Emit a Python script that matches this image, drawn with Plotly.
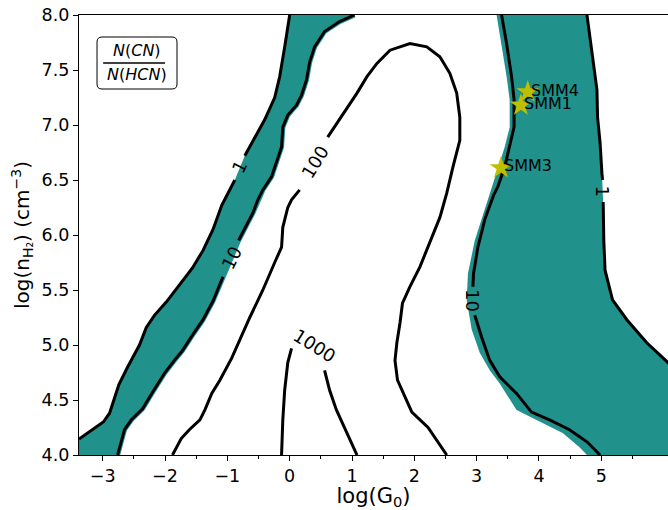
import plotly.graph_objects as go

# ---------------- data ----------------
# contour N(CN)/N(HCN) = 1, left branch (bottom -> top); None = label gap
c1L_x = [-3.38, -2.99, -2.89, -2.74, -2.60, -2.41, -2.30, -2.17, -1.98, -1.74, -1.56, -1.39,
         -1.23, -1.09, -0.96, -0.88, None, -0.72, -0.59, -0.40, -0.24, -0.16, -0.08, 0.00]
c1L_y = [4.145, 4.30, 4.38, 4.64, 4.80, 5.00, 5.16, 5.27, 5.39, 5.57, 5.70, 5.86,
         6.05, 6.27, 6.41, 6.50, None, 6.72, 6.86, 7.05, 7.25, 7.44, 7.71, 8.00]

# contour = 10, left branch (bottom -> top)
c10L_x = [-2.76, -2.65, -2.54, -2.36, -2.20, -2.00, -1.85, -1.72, -1.56, -1.39, -1.23, -1.07,
          None, -0.82, -0.59, -0.51, -0.43, -0.29, -0.13, -0.11, -0.03, 0.11, 0.19, 0.27,
          0.32, 0.40, 0.56, 0.80, 1.04]
c10L_y = [4.00, 4.23, 4.32, 4.42, 4.57, 4.75, 4.86, 4.95, 5.09, 5.23, 5.40, 5.62,
          None, 5.95, 6.20, 6.32, 6.41, 6.53, 6.80, 6.98, 7.09, 7.18, 7.27, 7.41,
          7.57, 7.71, 7.85, 7.94, 8.00]

# contour = 100
c100_x = [-1.88, -1.74, -1.61, -1.44, -1.36, -1.25, -1.12, -0.93, -0.64, -0.43, -0.24, -0.13,
          -0.11, -0.03, 0.03, 0.16, None, 0.61, 0.80, 1.08, 1.24, 1.40, 1.61, 1.93, 2.20,
          2.41, 2.57, 2.68, 2.73, 2.73, 2.62, 2.52, 2.41, 2.25, 2.09, 1.93, 1.81, 1.77,
          1.72, 1.69, 1.73, 1.96, 2.22, 2.52]
c100_y = [4.00, 4.15, 4.23, 4.32, 4.41, 4.56, 4.68, 4.88, 5.25, 5.50, 5.75, 5.89,
          6.07, 6.25, 6.32, 6.41, None, 6.89, 7.05, 7.29, 7.44, 7.56, 7.68, 7.74, 7.71,
          7.62, 7.47, 7.29, 7.07, 6.86, 6.62, 6.38, 6.16, 5.93, 5.71, 5.53, 5.38, 5.20,
          5.02, 4.86, 4.68, 4.39, 4.25, 4.00]

# contour = 1000
c1000_x = [-0.13, -0.11, -0.08, -0.03, 0.03, None, 0.56, 0.64, 0.75, 0.88, 1.08]
c1000_y = [4.00, 4.32, 4.59, 4.84, 4.97, None, 4.77, 4.59, 4.41, 4.25, 4.00]

# contour = 10, right branch (top -> bottom)
c10R_x = [3.40, 3.48, 3.56, 3.60, 3.60, 3.53, 3.45, 3.34, 3.27, 3.13, 3.02, 2.95, 2.94,
          None, 2.97, 3.08, 3.21, 3.37, 3.64, 3.88, 4.17, 4.49, 4.77, 4.98]
c10R_y = [8.00, 7.74, 7.44, 7.23, 6.98, 6.80, 6.62, 6.44, 6.36, 6.14, 5.89, 5.65, 5.53,
          None, 5.27, 5.07, 4.86, 4.71, 4.56, 4.39, 4.32, 4.23, 4.12, 4.00]

# filled-band edge (1 <= ratio <= 10) on the right, top -> bottom
fR_x = [3.32, 3.40, 3.48, 3.53, 3.53, 3.45, 3.35, 3.24, 3.18, 2.97, 2.86, 2.84, 2.92, 3.05,
        3.21, 3.37, 3.64, 3.96, 4.38, 4.65, 4.77]
fR_y = [8.00, 7.74, 7.44, 7.23, 6.98, 6.80, 6.62, 6.44, 6.32, 5.95, 5.65, 5.41, 5.14, 4.93,
        4.77, 4.65, 4.41, 4.32, 4.20, 4.07, 4.00]

# contour = 1, right branch (top -> bottom)
c1R_x = [4.77, 4.85, 4.93, 4.94, 4.98, 5.01, 5.02, None, 5.03, 5.04, 5.06, 5.18, 5.41, 5.73,
         6.07, 6.25]
c1R_y = [8.00, 7.68, 7.32, 7.07, 6.84, 6.56, 6.50, None, 6.30, 5.95, 5.68, 5.41, 5.23, 5.02,
         4.84, 4.74]

# contour labels
lab_text = ["1", "10", "100", "1000", "10", "1"]
lab_x = [-0.80, -0.94, 0.40, 0.40, 2.94, 5.02]
lab_y = [6.62, 5.79, 6.66, 5.00, 5.40, 6.40]
lab_angle = [-64, -64, -58, 32, 90, 90]

# sources
src_names = ["SMM4", "SMM1", "SMM3"]
src_x = [3.82, 3.71, 3.39]
src_y = [7.30, 7.18, 6.61]

TEAL = "#21918c"
FONT = "DejaVu Sans"


def strip(xs, ys):
    px, py = [], []
    for a, b in zip(xs, ys):
        if a is not None:
            px.append(a)
            py.append(b)
    return px, py


fig = go.Figure()

# left filled band
a_x, a_y = strip(c1L_x, c1L_y)
b_x, b_y = strip(c10L_x, c10L_y)
polyL_x = [-3.5, -3.5] + a_x + b_x[::-1]
polyL_y = [4.0, a_y[0]] + a_y + b_y[::-1]
fig.add_trace(go.Scatter(x=polyL_x, y=polyL_y, fill="toself", fillcolor=TEAL,
                         mode="lines", line=dict(width=0), hoverinfo="skip"))
# right filled band
r_x, r_y = strip(c1R_x, c1R_y)
polyR_x = fR_x + [6.4, 6.4] + r_x[::-1]
polyR_y = fR_y + [4.0, r_y[-1]] + r_y[::-1]
fig.add_trace(go.Scatter(x=polyR_x, y=polyR_y, fill="toself", fillcolor=TEAL,
                         mode="lines", line=dict(width=0), hoverinfo="skip"))
# slight halo of the fill around the left 10-contour
fig.add_trace(go.Scatter(x=b_x, y=b_y, mode="lines", line=dict(color=TEAL, width=5),
                         hoverinfo="skip"))

for xs, ys in [(c1L_x, c1L_y), (c10L_x, c10L_y), (c100_x, c100_y), (c1000_x, c1000_y),
               (c10R_x, c10R_y), (c1R_x, c1R_y)]:
    fig.add_trace(go.Scatter(x=xs, y=ys, mode="lines", connectgaps=False,
                             line=dict(color="black", width=3), hoverinfo="skip"))

fig.add_trace(go.Scatter(x=src_x, y=src_y, mode="markers",
                         marker=dict(symbol="star", size=17, color="#bfbf00",
                                     line=dict(width=0)), hoverinfo="skip"))

for t, x, y, ang in zip(lab_text, lab_x, lab_y, lab_angle):
    fig.add_annotation(x=x, y=y, text=t, textangle=ang, showarrow=False,
                       font=dict(family=FONT, size=18, color="black"))

for n, x, y in zip(src_names, src_x, src_y):
    fig.add_annotation(x=x, y=y, text=n, showarrow=False, xanchor="left", yanchor="middle",
                       xshift=1, yshift=2, font=dict(family=FONT, size=16, color="black"))

# fraction box
x0, x1, y0, y1 = 0.0306, 0.1664, 0.8318, 0.95
rx, ry = 0.0085, 0.0114
path = (f"M {x0+rx},{y1} L {x1-rx},{y1} Q {x1},{y1} {x1},{y1-ry} "
        f"L {x1},{y0+ry} Q {x1},{y0} {x1-rx},{y0} L {x0+rx},{y0} Q {x0},{y0} {x0},{y0+ry} "
        f"L {x0},{y1-ry} Q {x0},{y1} {x0+rx},{y1} Z")
fig.add_shape(type="path", path=path, xref="paper", yref="paper",
              line=dict(color="black", width=1), fillcolor="white")
fig.add_shape(type="line", xref="paper", yref="paper", x0=0.041, x1=0.146, y0=0.891, y1=0.891,
              line=dict(color="black", width=1.5))
fig.add_annotation(x=0.0985, y=0.919, xref="paper", yref="paper", showarrow=False,
                   xanchor="center", yanchor="middle",
                   text="<i>N</i>(<i>CN</i>)", font=dict(family=FONT, size=16, color="black"))
fig.add_annotation(x=0.0985, y=0.865, xref="paper", yref="paper", showarrow=False,
                   xanchor="center", yanchor="middle",
                   text="<i>N</i>(<i>HCN</i>)", font=dict(family=FONT, size=16, color="black"))

fig.update_layout(
    width=668, height=510,
    margin=dict(l=79, r=0, t=15, b=55),
    paper_bgcolor="white", plot_bgcolor="white",
    showlegend=False,
    font=dict(family=FONT, size=17, color="black"),
)
fig.update_xaxes(
    range=[-3.38, 6.07], tickmode="array", tickvals=[-3, -2, -1, 0, 1, 2, 3, 4, 5],
    ticks="outside", ticklen=5, tickwidth=1.2, tickcolor="black",
    minor=dict(tickvals=[-2.5, -1.5, -0.5, 0.5, 1.5, 2.5, 3.5, 4.5, 5.5], ticks="outside",
               ticklen=3, tickcolor="black", tickwidth=1),
    showline=True, linecolor="black", linewidth=1.3, mirror=True,
    showgrid=False, zeroline=False,
    tickfont=dict(family=FONT, size=17.5),
    title=dict(text="log(G<sub>0</sub>)", font=dict(family=FONT, size=21), standoff=8),
)
fig.update_yaxes(
    range=[4.0, 8.0], tickmode="array", tickvals=[4.0, 4.5, 5.0, 5.5, 6.0, 6.5, 7.0, 7.5, 8.0],
    tickformat=".1f",
    ticks="outside", ticklen=5, tickwidth=1.2, tickcolor="black",
    showline=True, linecolor="black", linewidth=1.3,
    showgrid=False, zeroline=False,
    tickfont=dict(family=FONT, size=17.5),
    title=dict(text="log(n<sub>H₂</sub>) (cm<sup>−3</sup>)", font=dict(family=FONT, size=20),
               standoff=6),
)

fig.write_html("out.html")
